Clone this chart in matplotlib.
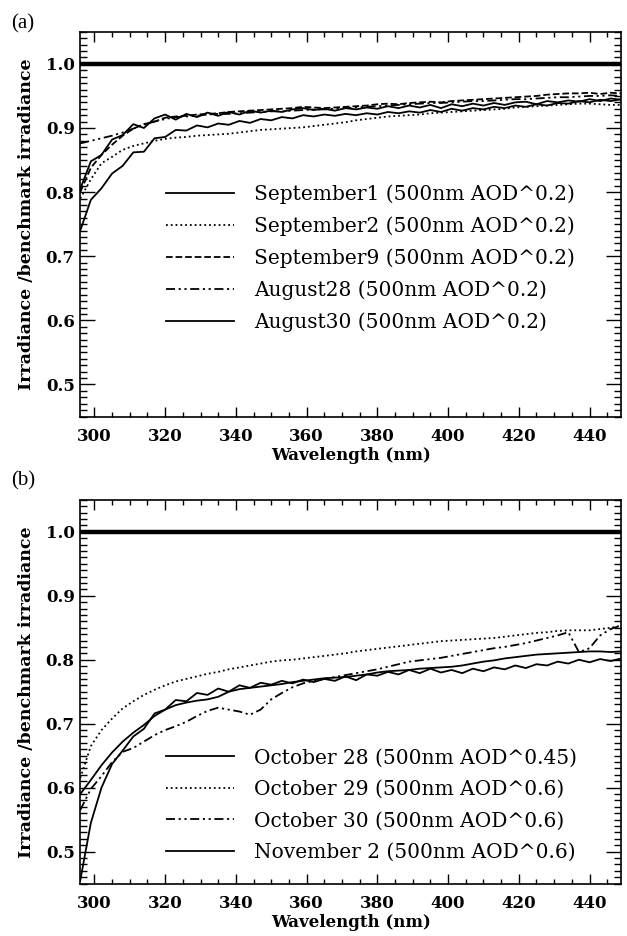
import matplotlib
matplotlib.use("Agg")
import matplotlib.pyplot as plt
from matplotlib.ticker import MultipleLocator

# ---------------- data ----------------
wavelength = [296, 299, 302, 305, 308, 311, 314, 317, 320, 323, 326, 329, 332,
              335, 338, 341, 344, 347, 350, 353, 356, 359, 362, 365, 368, 371,
              374, 377, 380, 383, 386, 389, 392, 395, 398, 401, 404, 407, 410,
              413, 416, 419, 422, 425, 428, 431, 434, 437, 440, 443, 446, 449]

# panel (a)
sep1 = [0.805, 0.848, 0.858, 0.882, 0.889, 0.906, 0.900, 0.915, 0.921, 0.913, 0.922, 0.917,
        0.924, 0.919, 0.925, 0.921, 0.927, 0.924, 0.927, 0.925, 0.929, 0.931, 0.928, 0.930,
        0.927, 0.931, 0.929, 0.932, 0.930, 0.934, 0.931, 0.935, 0.932, 0.936, 0.931, 0.937,
        0.934, 0.938, 0.935, 0.939, 0.936, 0.940, 0.941, 0.937, 0.942, 0.940, 0.943, 0.941,
        0.945, 0.942, 0.946, 0.944]
sep2 = [0.790, 0.820, 0.845, 0.855, 0.866, 0.872, 0.876, 0.880, 0.883, 0.885, 0.886, 0.888,
        0.889, 0.890, 0.891, 0.893, 0.895, 0.897, 0.898, 0.899, 0.900, 0.901, 0.903, 0.905,
        0.907, 0.909, 0.912, 0.914, 0.916, 0.918, 0.919, 0.920, 0.921, 0.923, 0.924, 0.925,
        0.926, 0.927, 0.928, 0.929, 0.930, 0.932, 0.933, 0.934, 0.935, 0.936, 0.937, 0.938,
        0.938, 0.937, 0.936, 0.936]
sep9 = [0.800, 0.838, 0.858, 0.874, 0.888, 0.899, 0.906, 0.910, 0.916, 0.918, 0.919, 0.921,
        0.922, 0.923, 0.925, 0.926, 0.927, 0.928, 0.929, 0.930, 0.931, 0.933, 0.932, 0.931,
        0.932, 0.933, 0.934, 0.935, 0.937, 0.938, 0.937, 0.939, 0.940, 0.941, 0.940, 0.942,
        0.943, 0.944, 0.945, 0.946, 0.947, 0.948, 0.949, 0.950, 0.952, 0.953, 0.954, 0.954,
        0.955, 0.953, 0.955, 0.954]
aug28 = [0.876, 0.880, 0.884, 0.888, 0.893, 0.899, 0.905, 0.910, 0.914, 0.917, 0.918, 0.919,
         0.921, 0.922, 0.922, 0.923, 0.924, 0.925, 0.926, 0.926, 0.927, 0.928, 0.929, 0.929,
         0.930, 0.931, 0.932, 0.933, 0.934, 0.935, 0.936, 0.937, 0.938, 0.939, 0.939, 0.940,
         0.941, 0.942, 0.942, 0.943, 0.944, 0.945, 0.945, 0.946, 0.947, 0.948, 0.948, 0.949,
         0.950, 0.950, 0.951, 0.950]
aug30 = [0.740, 0.788, 0.806, 0.829, 0.841, 0.862, 0.863, 0.884, 0.886, 0.897, 0.896, 0.904,
         0.901, 0.907, 0.905, 0.911, 0.908, 0.914, 0.912, 0.917, 0.915, 0.920, 0.918, 0.921,
         0.919, 0.922, 0.920, 0.923, 0.921, 0.925, 0.923, 0.926, 0.924, 0.928, 0.925, 0.930,
         0.927, 0.931, 0.929, 0.933, 0.931, 0.935, 0.933, 0.937, 0.935, 0.939, 0.938, 0.942,
         0.940, 0.944, 0.942, 0.945]

# panel (b)
oct28 = [0.455, 0.545, 0.600, 0.637, 0.658, 0.680, 0.692, 0.716, 0.722, 0.737, 0.735, 0.748,
         0.745, 0.755, 0.750, 0.760, 0.756, 0.764, 0.761, 0.767, 0.763, 0.769, 0.765, 0.770,
         0.767, 0.774, 0.768, 0.777, 0.775, 0.781, 0.777, 0.784, 0.779, 0.786, 0.780, 0.784,
         0.779, 0.786, 0.782, 0.788, 0.785, 0.791, 0.787, 0.793, 0.791, 0.797, 0.794, 0.800,
         0.796, 0.801, 0.798, 0.802]
oct29 = [0.615, 0.665, 0.690, 0.708, 0.724, 0.735, 0.745, 0.753, 0.760, 0.766, 0.770, 0.774,
         0.778, 0.781, 0.785, 0.788, 0.791, 0.794, 0.797, 0.799, 0.800, 0.802, 0.804, 0.806,
         0.808, 0.810, 0.813, 0.815, 0.817, 0.819, 0.821, 0.823, 0.825, 0.827, 0.829, 0.830,
         0.831, 0.832, 0.833, 0.834, 0.836, 0.838, 0.840, 0.842, 0.843, 0.845, 0.846, 0.846,
         0.846, 0.848, 0.850, 0.853]
oct30 = [0.565, 0.598, 0.618, 0.640, 0.656, 0.662, 0.672, 0.682, 0.690, 0.696, 0.703, 0.712,
         0.720, 0.725, 0.722, 0.719, 0.714, 0.722, 0.738, 0.748, 0.757, 0.763, 0.767, 0.770,
         0.773, 0.776, 0.779, 0.782, 0.785, 0.789, 0.793, 0.797, 0.799, 0.801, 0.803, 0.806,
         0.809, 0.812, 0.815, 0.818, 0.820, 0.823, 0.826, 0.830, 0.834, 0.838, 0.843, 0.812,
         0.818, 0.838, 0.848, 0.854]
nov2 = [0.590, 0.612, 0.635, 0.655, 0.672, 0.686, 0.698, 0.712, 0.722, 0.729, 0.733, 0.736,
        0.738, 0.742, 0.750, 0.754, 0.756, 0.758, 0.760, 0.762, 0.765, 0.767, 0.769, 0.771,
        0.772, 0.773, 0.775, 0.777, 0.780, 0.782, 0.783, 0.784, 0.786, 0.787, 0.788, 0.789,
        0.791, 0.794, 0.797, 0.799, 0.802, 0.804, 0.806, 0.808, 0.809, 0.810, 0.811, 0.812,
        0.813, 0.813, 0.812, 0.813]

benchmark = [1.0, 1.0]
benchmark_x = [296, 449]

labels_a = ["September1 (500nm AOD^0.2)", "September2 (500nm AOD^0.2)",
            "September9 (500nm AOD^0.2)", "August28 (500nm AOD^0.2)",
            "August30 (500nm AOD^0.2)"]
labels_b = ["October 28 (500nm AOD^0.45)", "October 29 (500nm AOD^0.6)",
            "October 30 (500nm AOD^0.6)", "November 2 (500nm AOD^0.6)"]

# ---------------- plotting ----------------
plt.rcParams['font.family'] = ['DejaVu Serif']

fig = plt.figure(figsize=(6.27, 9.36), dpi=100)
ax_a = fig.add_axes([0.128, 0.555, 0.863, 0.411])
ax_b = fig.add_axes([0.128, 0.056, 0.863, 0.410])

dash_dot = (0, (5, 2, 1.2, 2, 1.2, 2))
styles_a = ['-', ':', '--', dash_dot, '-']
series_a = [sep1, sep2, sep9, aug28, aug30]
styles_b = ['-', ':', dash_dot, '-']
series_b = [oct28, oct29, oct30, nov2]

for ax, series, styles, labels in [(ax_a, series_a, styles_a, labels_a),
                                   (ax_b, series_b, styles_b, labels_b)]:
    ax.plot(benchmark_x, benchmark, color='black', lw=3.2, solid_capstyle='butt')
    for s, ls, lab in zip(series, styles, labels):
        ax.plot(wavelength, s, color='black', lw=1.3, linestyle=ls, label=lab)
    ax.set_xlim(296, 449)
    ax.set_ylim(0.45, 1.05)
    ax.xaxis.set_major_locator(MultipleLocator(20))
    ax.xaxis.set_minor_locator(MultipleLocator(5))
    ax.yaxis.set_major_locator(MultipleLocator(0.1))
    ax.yaxis.set_minor_locator(MultipleLocator(0.01))
    ax.tick_params(axis='both', which='both', direction='in', top=True, right=True,
                   width=1.0, colors='black')
    ax.tick_params(axis='x', which='major', length=7, pad=8, labelsize=12)
    ax.tick_params(axis='x', which='minor', length=3.5)
    ax.tick_params(axis='y', which='major', length=11, pad=4, labelsize=12)
    ax.tick_params(axis='y', which='minor', length=5)
    ax.yaxis.set_major_formatter(matplotlib.ticker.FormatStrFormatter('%.1f'))
    for sp in ax.spines.values():
        sp.set_linewidth(1.2)
    ax.set_xlabel("Wavelength (nm)", fontsize=12, fontweight='bold', labelpad=2)
    ax.set_ylabel("Irradiance /benchmark irradiance", fontsize=12.5, fontweight='bold',
                  labelpad=8)
    for t in ax.get_xticklabels() + ax.get_yticklabels():
        t.set_fontweight('bold')

leg_kw = dict(loc='upper left', frameon=False, fontsize=14.5, handlelength=3.4,
              handletextpad=1.0, labelspacing=0.62, borderpad=0, borderaxespad=0)
ax_a.legend(handles=ax_a.get_lines()[1:], bbox_to_anchor=(0.158, 0.604), **leg_kw)
ax_b.legend(handles=ax_b.get_lines()[1:], bbox_to_anchor=(0.158, 0.352), **leg_kw)

fig.text(0.018, 0.985, "(a)", fontsize=15, family='Liberation Serif', va='top')
fig.text(0.018, 0.497, "(b)", fontsize=15, family='Liberation Serif', va='top')

fig.savefig("out.png", dpi=100)
